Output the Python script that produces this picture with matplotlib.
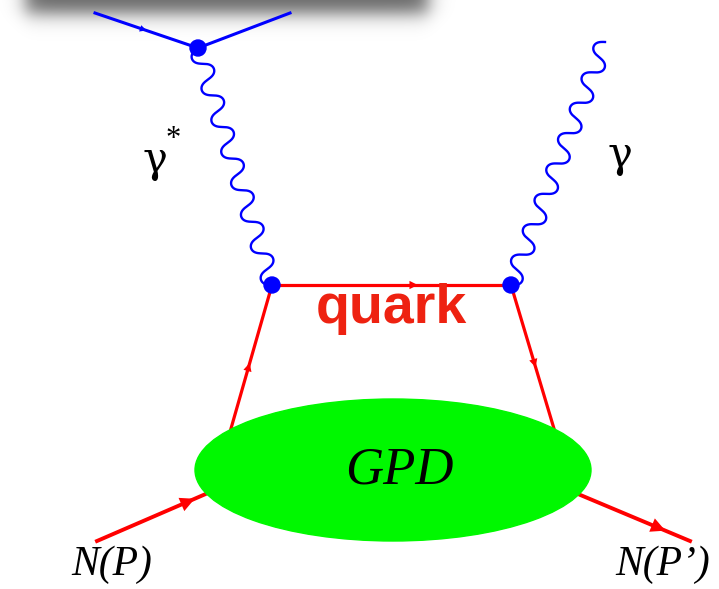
import numpy as np
import matplotlib
matplotlib.use("Agg")
import matplotlib.pyplot as plt
from matplotlib.patches import Ellipse, Circle

# vertex positions (pixel units, y pointing down)
lepton_vertex = (198, 48)
lepton_in = (95, 13)
lepton_out = (290, 13)
quark_left = (272, 285)
quark_right = (511, 285)
real_photon_end = (605, 42)
gpd_left_leg = (230, 432)
gpd_right_leg = (555, 432)
proton_in = ((97, 541), (208, 493))
proton_out = ((578, 494), (690, 541))

gpd_center = (393, 470)
gpd_size = (396, 142)

labels = {
    "gamma_star": (155, 160),
    "gamma": (620, 155),
    "quark": (391, 309),
    "gpd": (399, 470),
    "np": (112, 565),
    "npp": (663, 565),
}

RED = "#ff0000"
BLUE = "#0000ff"
GREEN = "#00f800"


def photon(ax, p0, p1, n, amp, **kw):
    p0 = np.array(p0, float)
    p1 = np.array(p1, float)
    d = p1 - p0
    length = np.hypot(*d)
    u = d / length
    nrm = np.array([-u[1], u[0]])
    t = np.linspace(0, 1, 800)
    ph = 2 * np.pi * n * t
    along = t * length - 0.12 * amp * np.sin(2 * ph)
    off = amp * np.sin(ph)
    pts = p0 + np.outer(along, u) + np.outer(off, nrm)
    ax.plot(pts[:, 0], pts[:, 1], **kw)


def arrow_on(ax, p0, p1, frac, color, scale=14):
    p0 = np.array(p0, float)
    p1 = np.array(p1, float)
    tip = p0 + frac * (p1 - p0)
    tail = tip - 0.02 * (p1 - p0)
    ax.annotate("", xy=tip, xytext=tail,
                arrowprops=dict(arrowstyle="-|>", color=color, lw=0,
                                mutation_scale=scale, shrinkA=0, shrinkB=0),
                zorder=6)


fig = plt.figure(figsize=(7.19, 5.89), dpi=100)
ax = fig.add_axes([0, 0, 1, 1])

# soft grey shadow along the top edge
xx = np.arange(0, 719)
yy = np.arange(0, 70)
fx = 0.5 * (np.tanh((xx - 25) / 11) - np.tanh((xx - 428) / 11))
fy = 0.5 * (1 - np.tanh((yy - 13) / 11))
alpha = 0.6 * np.outer(fy, fx)
shadow = np.zeros((len(yy), len(xx), 4))
shadow[..., 3] = alpha
ax.imshow(shadow, extent=(0, 719, 70, 0), zorder=0, interpolation="bilinear")
ax.set_xlim(0, 719)
ax.set_ylim(589, 0)
ax.axis("off")

# lepton lines
ax.plot([lepton_in[0], lepton_vertex[0]], [lepton_in[1], lepton_vertex[1]],
        color=BLUE, lw=2.2, zorder=3)
ax.plot([lepton_vertex[0], lepton_out[0]], [lepton_vertex[1], lepton_out[1]],
        color=BLUE, lw=2.2, zorder=3)
arrow_on(ax, lepton_in, lepton_vertex, 0.5, BLUE, scale=12)

# photons
photon(ax, lepton_vertex, quark_left, 7.5, 9, color=BLUE, lw=1.7, zorder=3)
photon(ax, quark_right, real_photon_end, 8, 9, color=BLUE, lw=1.7, zorder=3)

# quark lines
ax.plot([quark_left[0], quark_right[0]], [quark_left[1], quark_right[1]],
        color=RED, lw=2.3, zorder=3)
arrow_on(ax, quark_left, quark_right, 0.61, RED, scale=15)
ax.plot([gpd_left_leg[0], quark_left[0]], [gpd_left_leg[1], quark_left[1]],
        color=RED, lw=2.3, zorder=3)
arrow_on(ax, gpd_left_leg, quark_left, 0.47, RED, scale=15)
ax.plot([quark_right[0], gpd_right_leg[0]], [quark_right[1], gpd_right_leg[1]],
        color=RED, lw=2.3, zorder=3)
arrow_on(ax, quark_right, gpd_right_leg, 0.56, RED, scale=15)

# nucleon lines
for (a, b), f in ((proton_in, 0.88), (proton_out, 0.78)):
    ax.plot([a[0], b[0]], [a[1], b[1]], color=RED, lw=2.8, zorder=3)
    arrow_on(ax, a, b, f, RED, scale=26)

ax.add_patch(Ellipse(gpd_center, gpd_size[0], gpd_size[1], color=GREEN, zorder=4))

for c in (lepton_vertex, quark_left, quark_right):
    ax.add_patch(Circle(c, 8, color=BLUE, zorder=7))

serif = "Liberation Serif"
ax.text(*labels["gamma_star"], "\u03b3", fontsize=30, family="DejaVu Serif",
        ha="center", va="center")
ax.text(labels["gamma_star"][0] + 18, labels["gamma_star"][1] - 20, "*",
        fontsize=22, family=serif, ha="center", va="center")
ax.text(*labels["gamma"], "\u03b3", fontsize=30, family="DejaVu Serif",
        ha="center", va="center")
ax.text(*labels["quark"], "quark", fontsize=40, fontweight="bold",
        family="Liberation Sans", color="#ee2211", ha="center", va="center", zorder=8)
ax.text(*labels["gpd"], "GPD", fontsize=38, style="italic", family=serif,
        ha="center", va="center", zorder=8)
ax.text(*labels["np"], "N(P)", fontsize=30, style="italic", family=serif,
        ha="center", va="center")
ax.text(*labels["npp"], "N(P\u2019)", fontsize=30, style="italic", family=serif,
        ha="center", va="center")

fig.savefig("out.png", dpi=100)
